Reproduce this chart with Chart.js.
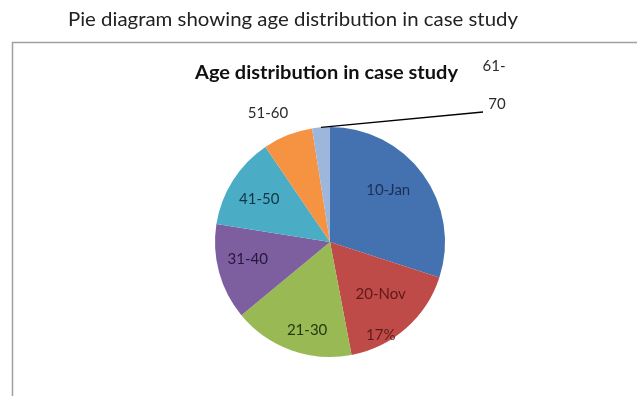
<!DOCTYPE html>
<html>
<head>
<meta charset="utf-8">
<script src="https://cdn.jsdelivr.net/npm/chart.js@4.4.1/dist/chart.umd.min.js"></script>
<style>
html,body{margin:0;padding:0;background:#fff;}
#wrap{position:relative;width:637px;height:396px;}
</style>
</head>
<body>
<div id="wrap"><canvas id="c" width="637" height="396"></canvas></div>
<script>
const categories = ['10-Jan', '20-Nov', '21-30', '31-40', '41-50', '51-60', '61-70'];
const values = [30, 17, 17, 13.5, 13, 7, 2.5];
const colors = ['#4472B0', '#BE4B48', '#98B954', '#7D5FA0', '#4AACC5', '#F59342', '#9DB6DC'];
const outerTitle = 'Pie diagram showing age distribution in case study';
const chartTitle = 'Age distribution in case study';

const labelStyle = [
  {r: 0.68, da: -5.9, color: '#1B2F57'},
  {r: 0.63, da: -3.0, color: '#5E1A18', extra: '17%'},
  {r: 0.79, da: -5.2, color: '#243A0E'},
  {r: 0.73, da: 3.6, color: '#26183D'},
  {r: 0.72, da: -1.2, color: '#0F3542'},
  {r: 1.24, da: -4.2, color: '#2a2a2a'},
  {r: 0, da: 0, color: '#2a2a2a'}
];

function fitText(ctx, text, x, y, w) {
  const m = ctx.measureText(text).width;
  ctx.save();
  ctx.translate(x, y);
  ctx.scale(w / m, 1);
  ctx.fillText(text, 0, 0);
  ctx.restore();
}

const drawPlugin = {
  id: 'drawPlugin',
  beforeDraw(chart) {
    const ctx = chart.ctx;
    ctx.save();
    ctx.fillStyle = '#fff';
    ctx.fillRect(0, 0, chart.width, chart.height);
    ctx.strokeStyle = '#a0a0a0';
    ctx.lineWidth = 1.5;
    ctx.strokeRect(12.5, 42.5, 640, 370);
    ctx.fillStyle = '#222';
    ctx.font = '20px Lato, "Open Sans", sans-serif';
    ctx.textBaseline = 'alphabetic';
    ctx.textAlign = 'left';
    fitText(ctx, outerTitle, 68, 26, 450);
    ctx.font = 'bold 19px Lato, "Open Sans", sans-serif';
    ctx.fillStyle = '#111';
    fitText(ctx, chartTitle, 195, 79, 263);
    ctx.restore();
  },
  afterDatasetsDraw(chart) {
    const ctx = chart.ctx;
    const meta = chart.getDatasetMeta(0);
    ctx.save();
    ctx.font = '15px Lato, "Open Sans", sans-serif';
    ctx.textAlign = 'center';
    ctx.textBaseline = 'middle';
    meta.data.forEach((arc, i) => {
      const p = arc.getProps(['x', 'y', 'startAngle', 'endAngle', 'outerRadius'], true);
      const st = labelStyle[i];
      if (i === meta.data.length - 1) {
        const mid = (p.startAngle + p.endAngle) / 2;
        const ax = p.x + Math.cos(mid) * p.outerRadius;
        const ay = p.y + Math.sin(mid) * p.outerRadius;
        ctx.strokeStyle = '#000';
        ctx.lineWidth = 1.3;
        ctx.beginPath();
        ctx.moveTo(ax, ay);
        ctx.lineTo(p.x + 153, p.y - 130);
        ctx.stroke();
        ctx.fillStyle = st.color;
        const parts = categories[i].split('-');
        ctx.fillText(parts[0] + '-', p.x + 164, p.y - 176);
        ctx.fillText(parts[1], p.x + 167, p.y - 138);
        return;
      }
      const mid = (p.startAngle + p.endAngle) / 2 + st.da * Math.PI / 180;
      const lx = p.x + Math.cos(mid) * p.outerRadius * st.r;
      const ly = p.y + Math.sin(mid) * p.outerRadius * st.r;
      ctx.fillStyle = st.color;
      ctx.fillText(categories[i], lx, ly);
      if (st.extra) {
        ctx.fillText(st.extra, lx, ly + 41);
      }
    });
    ctx.restore();
  }
};

new Chart(document.getElementById('c'), {
  type: 'pie',
  data: {
    labels: categories,
    datasets: [{
      data: values,
      backgroundColor: colors,
      borderColor: '#ffffff',
      borderWidth: 0
    }]
  },
  options: {
    responsive: false,
    animation: false,
    layout: {padding: {left: 215, right: 192, top: 127, bottom: 39}},
    plugins: {
      legend: {display: false},
      title: {display: false},
      tooltip: {enabled: false}
    }
  },
  plugins: [drawPlugin]
});
</script>
</body>
</html>
